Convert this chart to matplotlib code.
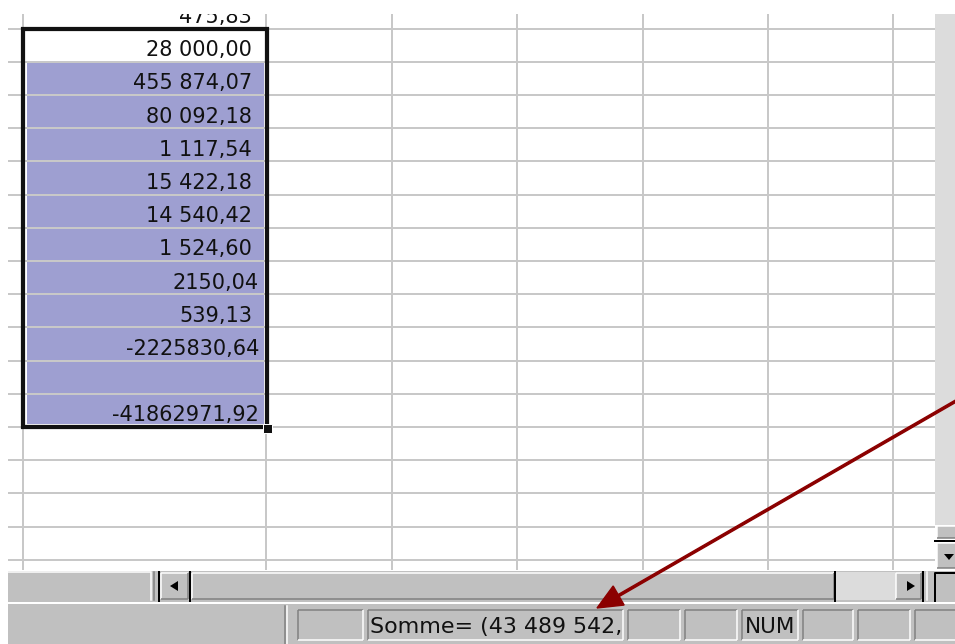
import matplotlib.pyplot as plt
from matplotlib.patches import Rectangle, FancyArrow, Polygon

#cell values of the selected column, first one is the active cell
cell_values = ['28 000,00', '455 874,07', '80 092,18', '1 117,54', '15 422,18',
               '14 540,42', '1 524,60', '2150,04', '539,13', '-2225830,64', '',
               '-41862971,92']
#values typed without the number format (no trailing padding)
plain_values = ['2150,04', '-2225830,64', '-41862971,92']
#row cut off by the top of the window
top_value = '475,83'
#status bar texts
sum_label = 'Somme= (43 489 542,'
mode_label = 'NUM'

#window layout in pixels
W, H = 955, 644
col_edges = [23, 266, 392, 517, 643, 768, 893]
row_top = 28.5
row_h = 33.2
grid_left, grid_right = 8, 935
grid_top, grid_bottom = 14, 570
face = '#c0c0c0'
dots = '#dcdcdc'
grid_col = '#c8c8c8'
sel_col = '#9e9fd1'


def px(n):
    #pixels to points
    return n * 0.72


def bevel(ax, x0, y0, x1, y1, raised=True, lw=1.5):
    light, dark = ('#ffffff', '#808080') if raised else ('#808080', '#ffffff')
    ax.add_patch(Rectangle((x0, y0), x1 - x0, y1 - y0, facecolor=face, edgecolor='none'))
    ax.plot([x0, x1], [y0, y0], color=light, lw=px(lw), solid_capstyle='butt')
    ax.plot([x0, x0], [y0, y1], color=light, lw=px(lw), solid_capstyle='butt')
    ax.plot([x0, x1], [y1, y1], color=dark, lw=px(lw), solid_capstyle='butt')
    ax.plot([x1, x1], [y0, y1], color=dark, lw=px(lw), solid_capstyle='butt')


def triangle(ax, cx, cy, direction, s=5):
    if direction == 'left':
        pts = [(cx - s, cy), (cx + s * 0.6, cy - s), (cx + s * 0.6, cy + s)]
    elif direction == 'right':
        pts = [(cx + s, cy), (cx - s * 0.6, cy - s), (cx - s * 0.6, cy + s)]
    else:
        pts = [(cx, cy + s * 0.6), (cx - s, cy - s * 0.6), (cx + s, cy - s * 0.6)]
    ax.add_patch(Polygon(pts, closed=True, facecolor='black', edgecolor='none', zorder=5))


fig = plt.figure(figsize=(W / 100, H / 100), dpi=100)
ax = fig.add_axes([0, 0, 1, 1])
ax.set_xlim(0, W)
ax.set_ylim(H, 0)
ax.axis('off')

n_rows = len(cell_values)
sel_bottom = row_top + n_rows * row_h

#selection fill (all but the active cell)
ax.add_patch(Rectangle((26.5, row_top + row_h + 1.5), 237, sel_bottom - row_top - row_h - 4,
                       facecolor=sel_col, edgecolor='none', zorder=1))

#grid lines
row_lines = [row_top + k * row_h for k in range(17)]
ax.hlines(row_lines, grid_left, grid_right, color=grid_col, lw=px(2), zorder=2)
ax.vlines(col_edges, grid_top, grid_bottom, color=grid_col, lw=px(2), zorder=2)

#selection border and fill handle
ax.add_patch(Rectangle((23, row_top), 244, sel_bottom - row_top, facecolor='none',
                       edgecolor='#111111', lw=px(4.2), zorder=3))
ax.add_patch(Rectangle((262.5, 423.5), 9, 9, facecolor='#111111', edgecolor='white',
                       lw=px(1), zorder=4))

#cell texts
rows = [top_value] + cell_values
for k, val in enumerate(rows):
    x_right = 259 if val in plain_values else 252
    base = row_top + k * row_h - 5.5
    t = ax.text(x_right, base, val, ha='right', va='baseline', fontsize=15,
                family='DejaVu Sans', color='#111111', zorder=4)
    t.set_clip_path(Rectangle((0, grid_top), W, grid_bottom - grid_top,
                              transform=ax.transData))
    t.set_clip_on(True)

#vertical scrollbar
ax.add_patch(Rectangle((grid_right, grid_top), W - grid_right, 525 - grid_top,
                       facecolor=dots, edgecolor='none', zorder=2))
bevel(ax, 937, 526, 957, 538)
ax.plot([935, 955], [540.5, 540.5], color='black', lw=px(2))
bevel(ax, 937, 543, 957, 568)
triangle(ax, 949, 557, 'down')

#horizontal scrollbar
ax.add_patch(Rectangle((grid_left, 571), W - grid_left, 32, facecolor=face, edgecolor='none'))
ax.plot([grid_left, 150], [572, 572], color='white', lw=px(1.5))
ax.plot([151, 151], [572, 600], color='white', lw=px(1.5))
ax.plot([154, 154], [572, 600], color='#808080', lw=px(1.5))
ax.plot([158.5, 158.5], [572, 601], color='black', lw=px(2))
bevel(ax, 161, 573, 188, 599)
triangle(ax, 175, 586, 'left')
ax.plot([189.5, 189.5], [572, 601], color='black', lw=px(2))
bevel(ax, 192, 573, 834, 599)
ax.plot([835, 835], [572, 601], color='black', lw=px(2))
ax.add_patch(Rectangle((836, 572), 60, 28, facecolor=dots, edgecolor='none', zorder=2))
bevel(ax, 896, 573, 921, 599)
triangle(ax, 910, 586, 'right')
ax.plot([923, 923], [572, 601], color='black', lw=px(2))
ax.plot([927, 927], [572, 600], color='white', lw=px(1.5))
ax.plot([935, 935, 955], [601, 572.5, 572.5], color='black', lw=px(2))

#status bar
ax.add_patch(Rectangle((grid_left, 604), W - grid_left, 40, facecolor=face, edgecolor='none'))
ax.plot([grid_left, W], [603, 603], color='white', lw=px(2))
ax.plot([285, 285], [606, 644], color='#808080', lw=px(1.5))
ax.plot([287, 287], [606, 644], color='white', lw=px(1.5))
panels = [(298, 363), (368, 623), (628, 680), (685, 737), (742, 798),
          (803, 853), (858, 910), (915, 960)]
for x0, x1 in panels:
    bevel(ax, x0, 610, x1, 640, raised=False)

st = ax.text(370, 633, sum_label, ha='left', va='baseline', fontsize=15.9,
             family='DejaVu Sans', color='#111111', zorder=5)
st.set_clip_path(Rectangle((368, 610), 255, 30, transform=ax.transData))
st.set_clip_on(True)
ax.text(745, 633, mode_label, ha='left', va='baseline', fontsize=15.5,
        family='DejaVu Sans', color='#111111', zorder=5)

#pointer arrow to the sum
ax.add_patch(FancyArrow(975, 390, 597 - 975, 608 - 390, width=2.2, head_width=22,
                        head_length=25, length_includes_head=True,
                        color='#8b0000', zorder=10))

fig.savefig('out.png', dpi=100)
